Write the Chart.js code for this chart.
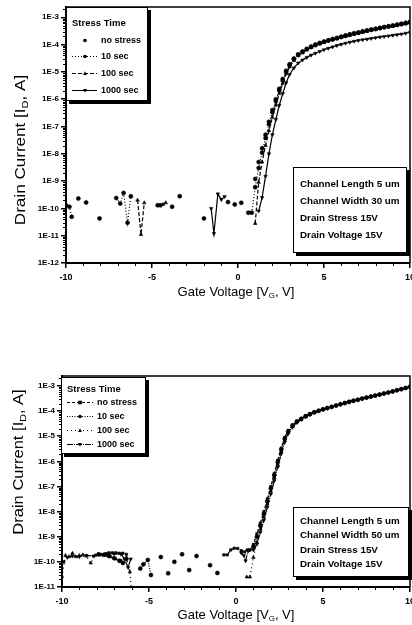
<!DOCTYPE html>
<html><head><meta charset="utf-8">
<script src="https://cdn.jsdelivr.net/npm/chart.js@4.4.1/dist/chart.umd.min.js"></script>
<style>
html,body{margin:0;padding:0;background:#fff;overflow:hidden;width:412px;height:625px}
canvas{position:absolute;left:0}
#c1{top:0}
#c2{top:300px}
</style></head>
<body>
<canvas id="c1" width="425" height="300"></canvas>
<canvas id="c2" width="425" height="325"></canvas>
<script>
// ---------- shared text ----------
const seriesLabels = ['no stress', '10 sec', '100 sec', '1000 sec'];
const legendTitle = 'Stress Time';
const voltageTicks = [-10, -5, 0, 5, 10];
const topCurrentTicks = [1e-12, 1e-11, 1e-10, 1e-9, 1e-8, 1e-7, 1e-6, 1e-5, 1e-4, 1e-3];
const botCurrentTicks = [1e-11, 1e-10, 1e-9, 1e-8, 1e-7, 1e-6, 1e-5, 1e-4, 1e-3];
const topInfoLines = ['Channel Length 5 um', 'Channel Width 30 um', 'Drain Stress 15V', 'Drain Voltage 15V'];
const botInfoLines = ['Channel Length 5 um', 'Channel Width 50 um', 'Drain Stress 15V', 'Drain Voltage 15V'];

// ---------- top chart (W = 30 um) ----------
const topOnV = [0.6, 0.8, 1.0, 1.2, 1.4, 1.6, 1.8, 2.0, 2.2, 2.4, 2.6, 2.8,
  3.0, 3.25, 3.5, 3.75, 4.0, 4.25, 4.5, 4.75, 5.0, 5.25, 5.5, 5.75, 6.0, 6.25, 6.5, 6.75, 7.0, 7.25, 7.5, 7.75, 8.0, 8.25, 8.5, 8.75, 9.0, 9.25, 9.5, 9.75, 10.0];
const topNoStressOn = [null, null, 1.2e-9, 5e-9, 1.6e-8, 5e-8, 1.5e-7, 4e-7, 1e-6, 2.4e-6, 5.5e-6, 1.1e-5,
  1.9e-5, 3.1e-5, 4.4e-5, 5.6e-5, 7e-5, 8.5e-5, 1e-4, 1.15e-4, 1.3e-4, 1.45e-4, 1.6e-4, 1.75e-4, 1.95e-4, 2.15e-4, 2.4e-4, 2.6e-4, 2.8e-4, 3.05e-4, 3.3e-4, 3.55e-4, 3.8e-4, 4.1e-4, 4.4e-4, 4.7e-4, 5e-4, 5.4e-4, 5.8e-4, 6.3e-4, 6.8e-4];
const top10sOn = [7e-11, 7e-11, 6e-10, 3e-9, 1.1e-8, 3.8e-8, 1.2e-7, 3.3e-7, 8.5e-7, 2.1e-6, 4.8e-6, 1e-5,
  1.75e-5, 2.9e-5, 4.2e-5, 5.3e-5, 6.7e-5, 8.1e-5, 9.6e-5, 1.1e-4, 1.25e-4, 1.4e-4, 1.55e-4, 1.7e-4, 1.9e-4, 2.1e-4, 2.3e-4, 2.5e-4, 2.7e-4, 2.95e-4, 3.2e-4, 3.45e-4, 3.7e-4, 4e-4, 4.3e-4, 4.6e-4, 4.9e-4, 5.25e-4, 5.6e-4, 6e-4, 6.5e-4];
const top100sOn = [null, null, 2.8e-11, 9e-10, 5e-9, 2e-8, 7e-8, 2.2e-7, 6e-7, 1.6e-6, 3.8e-6, 8.5e-6,
  1.5e-5, 2.6e-5, 3.9e-5, 5e-5, 6.4e-5, 7.8e-5, 9.2e-5, 1.06e-4, 1.2e-4, 1.35e-4, 1.5e-4, 1.65e-4, 1.8e-4, 2e-4, 2.2e-4, 2.4e-4, 2.6e-4, 2.85e-4, 3.1e-4, 3.35e-4, 3.6e-4, 3.9e-4, 4.2e-4, 4.45e-4, 4.7e-4, 5.05e-4, 5.4e-4, 5.8e-4, 6.2e-4];
const top1000sOn = [null, null, null, 8e-11, 2.5e-10, 1.5e-9, 1e-8, 5e-8, 1.8e-7, 6e-7, 1.6e-6, 4e-6,
  8e-6, 1.4e-5, 2.1e-5, 2.7e-5, 3.4e-5, 4.1e-5, 4.8e-5, 5.6e-5, 6.5e-5, 7.3e-5, 8.2e-5, 9.2e-5, 1.02e-4, 1.12e-4, 1.22e-4, 1.32e-4, 1.42e-4, 1.5e-4, 1.58e-4, 1.68e-4, 1.78e-4, 1.88e-4, 1.98e-4, 2.08e-4, 2.18e-4, 2.3e-4, 2.42e-4, 2.6e-4, 2.8e-4];

const topNoStressOffV = [-9.28, -8.83, -8.05, -4.67, -4.51, -3.83, -3.39, -1.98, -0.58, -0.19, 0.19];
const topNoStressOffI = [2.3e-10, 1.65e-10, 4.3e-11, 1.3e-10, 1.3e-10, 1.15e-10, 2.8e-10, 4.3e-11, 1.7e-10, 1.4e-10, 1.6e-10];
const top10sOffV = [-10, -9.8, -9.67, -8.0, -7.08, -6.85, -6.65, -6.42, -6.23, 0.4];
const top10sOffI = [1.3e-10, 1.15e-10, 4.9e-11, null, 2.4e-10, 1.5e-10, 3.7e-10, 3e-11, 2.8e-10, null];
const top100sOffV = [-5.84, -5.64, -5.45, -5.0, -4.36, -4.2, 0.5];
const top100sOffI = [2e-10, 1.1e-11, 1.6e-10, null, 1.4e-10, 1.6e-10, null];
const top1000sOffV = [-1.56, -1.4, -1.17, -0.97, -0.78, 0.5];
const top1000sOffI = [1e-10, 1.2e-11, 3.4e-10, 2.1e-10, 2.7e-10, null];

// ---------- bottom chart (W = 50 um) ----------
const botOnV = [0.8, 1.0, 1.2, 1.4, 1.6, 1.8, 2.0, 2.2, 2.4, 2.6, 2.8,
  3.0, 3.25, 3.5, 3.75, 4.0, 4.25, 4.5, 4.75, 5.0, 5.25, 5.5, 5.75, 6.0, 6.25, 6.5, 6.75, 7.0, 7.25, 7.5, 7.75, 8.0, 8.25, 8.5, 8.75, 9.0, 9.25, 9.5, 9.75, 10.0];
const botNoStressOn = [3e-10, 5e-10, 1.3e-9, 3.5e-9, 1e-8, 3.2e-8, 1e-7, 3.3e-7, 1.1e-6, 3.4e-6, 9e-6,
  1.7e-5, 2.8e-5, 4e-5, 5.1e-5, 6.5e-5, 7.8e-5, 9.2e-5, 1.06e-4, 1.2e-4, 1.35e-4, 1.5e-4, 1.7e-4, 1.9e-4, 2.15e-4, 2.4e-4, 2.65e-4, 2.9e-4, 3.2e-4, 3.5e-4, 3.85e-4, 4.2e-4, 4.65e-4, 5.1e-4, 5.6e-4, 6.2e-4, 6.9e-4, 7.6e-4, 8.5e-4, 9.5e-4];
const bot10sOn = [null, 4e-10, 1e-9, 2.8e-9, 8e-9, 2.6e-8, 8.5e-8, 2.8e-7, 9.5e-7, 3e-6, 8e-6,
  1.55e-5, 2.65e-5, 3.85e-5, 4.95e-5, 6.3e-5, 7.6e-5, 9e-5, 1.04e-4, 1.18e-4, 1.33e-4, 1.48e-4, 1.67e-4, 1.88e-4, 2.1e-4, 2.35e-4, 2.6e-4, 2.85e-4, 3.15e-4, 3.45e-4, 3.8e-4, 4.15e-4, 4.55e-4, 5e-4, 5.5e-4, 6.1e-4, 6.8e-4, 7.5e-4, 8.4e-4, 9.3e-4];
const bot100sOn = [2.5e-11, 1.5e-10, 6e-10, 2e-9, 6e-9, 2e-8, 6.5e-8, 2.2e-7, 7.5e-7, 2.5e-6, 6.8e-6,
  1.4e-5, 2.5e-5, 3.7e-5, 4.8e-5, 6.1e-5, 7.4e-5, 8.8e-5, 1.02e-4, 1.16e-4, 1.31e-4, 1.46e-4, 1.65e-4, 1.85e-4, 2.07e-4, 2.3e-4, 2.55e-4, 2.8e-4, 3.1e-4, 3.4e-4, 3.75e-4, 4.1e-4, 4.5e-4, 4.95e-4, 5.45e-4, 6e-4, 6.7e-4, 7.4e-4, 8.3e-4, 9.2e-4];
const bot1000sOn = [3e-10, 3e-10, 5e-10, 1.5e-9, 4.5e-9, 1.5e-8, 5e-8, 1.7e-7, 6e-7, 2e-6, 5.8e-6,
  1.25e-5, 2.3e-5, 3.5e-5, 4.6e-5, 5.9e-5, 7.2e-5, 8.6e-5, 1e-4, 1.14e-4, 1.29e-4, 1.44e-4, 1.62e-4, 1.82e-4, 2.04e-4, 2.27e-4, 2.5e-4, 2.75e-4, 3.05e-4, 3.35e-4, 3.7e-4, 4.05e-4, 4.45e-4, 4.9e-4, 5.4e-4, 5.9e-4, 6.6e-4, 7.3e-4, 8.2e-4, 9e-4];

const botNoStressOffV = [-10, -9.9, -9.6, -7.5, -7.3, -7.1, -6.9, -6.7, -6.5, -6.3, -3, -0.7, -0.5, -0.3, -0.1, 0.1, 0.3, 0.5, 0.65];
const botNoStressOffI = [1e-10, 1e-10, null, 2.1e-10, 2.3e-10, 2.3e-10, 2.3e-10, 2.2e-10, 2.2e-10, 2e-10, null, 1.9e-10, 1.9e-10, 3e-10, 3.5e-10, 3.4e-10, 2.8e-10, 2.5e-10, 3e-10];
const bot10sOffV = [-7.9, -7.6, -7.3, -7.0, -6.7, -6.5, -6.3, -6.0, -5.5, -5.32, -5.07, -4.89, -4.6, -4.32, -4.1, -3.9, -3.7, -3.54, -3.3, -3.1, -2.9, -2.69, -2.5, -2.27, -1.8, -1.49, -1.3, -1.07, -0.9];
const bot10sOffI = [2e-10, 1.9e-10, 1.7e-10, 1.4e-10, 1.1e-10, 9e-11, 1.3e-10, null, 5.4e-11, 8e-11, 1.2e-10, 3e-11, null, 1.55e-10, null, 3.5e-11, null, 1e-10, null, 2e-10, null, 4.7e-11, null, 1.7e-10, null, 7.4e-11, null, 3.6e-11, null];
const bot100sOffV = [-10, -9.8, -9.6, -9.4, -9.2, -9.0, -8.8, -8.6, -8.35, -8.1, -7.8, -7.5, -7.2, -6.9, -6.6, -6.3, -6.1, -5.95, 0.0, 0.62];
const bot100sOffI = [2.6e-11, 1.8e-10, 1.6e-10, 2.2e-10, 1.6e-10, 1.8e-10, 1.9e-10, 1.7e-10, 9e-11, 1.8e-10, 1.9e-10, 1.8e-10, 1.6e-10, 1.3e-10, 1.1e-10, 1.5e-10, 4e-11, 3e-12, null, 2.5e-11];
const bot1000sOffV = [-9.7, -9.4, -9.0, -8.6, -8.2, -7.8, -7.4, -7.0, -6.6, -6.4, -6.2, -6.05, -3, 0.3, 0.45, 0.55, 0.7];
const bot1000sOffI = [1.5e-10, 1.7e-10, 1.6e-10, 1.8e-10, 1.7e-10, 2e-10, 2.1e-10, 2.1e-10, 2e-10, 1.3e-10, 6e-11, 1.3e-10, null, 2.3e-10, 1.8e-10, 1.1e-10, 2.8e-10];

// ---------- helpers ----------
function pts(offV, offI, onV, onI) {
  const a = [];
  offV.forEach((v, i) => a.push({ x: v, y: offI[i] }));
  onV.forEach((v, i) => a.push({ x: v, y: onI[i] }));
  return a;
}
const FONT = '"Liberation Sans", Arial, sans-serif';

function markerPath(ctx, style, rot, x, y, r) {
  ctx.beginPath();
  if (style === 'circle') ctx.arc(x, y, r, 0, Math.PI * 2);
  else if (style === 'rect') ctx.rect(x - r, y - r, 2 * r, 2 * r);
  else if (style === 'triangle') {
    const s = rot === 180 ? -1 : 1;
    ctx.moveTo(x, y - s * r * 1.2);
    ctx.lineTo(x + r * 1.1, y + s * r * 0.8);
    ctx.lineTo(x - r * 1.1, y + s * r * 0.8);
    ctx.closePath();
  }
  ctx.fill();
}

function drawBox(ctx, b) {
  ctx.fillStyle = '#000';
  ctx.fillRect(b.x + 3, b.y + 3, b.w, b.h);
  ctx.fillStyle = '#fff';
  ctx.fillRect(b.x, b.y, b.w, b.h);
  ctx.strokeStyle = '#000';
  ctx.lineWidth = 1;
  ctx.strokeRect(b.x + 0.5, b.y + 0.5, b.w - 1, b.h - 1);
}

function drawParts(ctx, parts, size, subSize) {
  let total = 0;
  parts.forEach(p => { ctx.font = (p[1] ? subSize : size) + 'px ' + FONT; total += ctx.measureText(p[0]).width; });
  let x = -total / 2;
  parts.forEach(p => {
    ctx.font = (p[1] ? subSize : size) + 'px ' + FONT;
    ctx.fillText(p[0], x, p[1] ? size * 0.3 : 0);
    x += ctx.measureText(p[0]).width;
  });
}

const decor = {
  id: 'decor',
  afterDatasetsDraw(chart, args, o) {
    const ctx = chart.ctx, ca = chart.chartArea;
    const xs = chart.scales.x, ys = chart.scales.y;
    ctx.save();
    ctx.strokeStyle = '#000';
    ctx.lineWidth = 1.5;
    ctx.beginPath();
    ctx.moveTo(ca.left, ca.top); ctx.lineTo(ca.right, ca.top); ctx.lineTo(ca.right, ca.bottom);
    ctx.stroke();
    // minor ticks
    ctx.lineWidth = 1;
    ctx.beginPath();
    const lmin = Math.floor(Math.log10(ys.min)), lmax = Math.ceil(Math.log10(ys.max));
    for (let d = lmin; d <= lmax; d++) {
      for (let k = 2; k <= 9; k++) {
        const v = k * Math.pow(10, d);
        if (v <= ys.min || v >= ys.max) continue;
        const py = Math.round(ys.getPixelForValue(v)) + 0.5;
        ctx.moveTo(ca.left - 3, py); ctx.lineTo(ca.left, py);
      }
    }
    for (let v = Math.ceil(xs.min); v <= xs.max; v++) {
      if (v % 5 === 0) continue;
      const px = Math.round(xs.getPixelForValue(v)) + 0.5;
      ctx.moveTo(px, ca.bottom); ctx.lineTo(px, ca.bottom + 3);
    }
    ctx.stroke();

    // legend box
    const L = o.legend;
    drawBox(ctx, L.box);
    ctx.fillStyle = '#000';
    ctx.textBaseline = 'middle';
    ctx.textAlign = 'left';
    ctx.font = 'bold 9.5px ' + FONT;
    ctx.fillText(legendTitle, L.titleX, L.titleY);
    chart.data.datasets.forEach((ds, i) => {
      const y = L.rows[i] + 0.5;
      if (ds.showLine !== false) {
        ctx.strokeStyle = '#000';
        ctx.lineWidth = 1;
        ctx.setLineDash(ds.borderDash || []);
        ctx.beginPath(); ctx.moveTo(L.lineX[0], y); ctx.lineTo(L.lineX[1], y); ctx.stroke();
        ctx.setLineDash([]);
      }
      ctx.fillStyle = '#000';
      markerPath(ctx, ds.pointStyle, ds.pointRotation || 0, L.markX, y, 1.8);
      ctx.font = 'bold 9px ' + FONT;
      ctx.fillText(ds.label, L.textX, y);
    });

    // info box
    const I = o.info;
    drawBox(ctx, I.box);
    ctx.fillStyle = '#000';
    ctx.font = 'bold 9.8px ' + FONT;
    I.lines.forEach((t, i) => ctx.fillText(t, I.textX, I.rows[i]));

    // axis titles
    ctx.textBaseline = 'middle';
    ctx.save();
    ctx.translate(o.xTitle.x, o.xTitle.y);
    drawParts(ctx, [['Gate Voltage [V', false], ['G', true], [', V]', false]], 13, 8);
    ctx.restore();
    ctx.save();
    ctx.translate(o.yTitle.x, o.yTitle.y);
    ctx.rotate(-Math.PI / 2);
    ctx.scale(o.yTitle.stretch, 1);
    drawParts(ctx, [['Drain Current [I', false], ['D', true], [', A]', false]], 14, 9);
    ctx.restore();
    ctx.restore();
  }
};

function makeDatasets(style, sets) {
  return sets.map((d, i) => Object.assign({
    label: seriesLabels[i], data: d,
    borderColor: '#000', backgroundColor: '#000',
    pointBackgroundColor: '#000', pointBorderColor: '#000',
    borderWidth: 1.2, pointRadius: 2, pointBorderWidth: 0.6,
    spanGaps: false, clip: 0, tension: 0
  }, style[i]));
}

function makeOptions(yTicks, yMax, yWidth, xHeight, padTop, deco) {
  const tickFont = { family: FONT, size: 9, weight: 'bold' };
  const axisGrid = { drawOnChartArea: false, color: '#000', tickLength: 5, lineWidth: 1.5 };
  return {
    responsive: false, animation: false, devicePixelRatio: 1,
    layout: { padding: { top: padTop, right: 15, left: 0, bottom: 0 } },
    plugins: { legend: { display: false }, tooltip: { enabled: false }, decor: deco },
    scales: {
      x: {
        type: 'linear', min: -10, max: 10,
        afterBuildTicks: s => { s.ticks = voltageTicks.map(v => ({ value: v })); },
        ticks: { callback: v => String(v), font: tickFont, color: '#000', padding: 4, maxRotation: 0, autoSkip: false },
        grid: axisGrid, border: { color: '#000', width: 2 },
        afterFit: s => { s.height = xHeight; }
      },
      y: {
        type: 'logarithmic', min: yTicks[0], max: yMax,
        afterBuildTicks: s => { s.ticks = yTicks.map(v => ({ value: v })); },
        ticks: { callback: v => '1E' + Math.round(Math.log10(v)), font: { family: FONT, size: 8, weight: 'bold' }, color: '#000', padding: 2, autoSkip: false },
        grid: axisGrid, border: { color: '#000', width: 2 },
        afterFit: s => { s.width = yWidth; }
      }
    }
  };
}

// ---------- top chart ----------
const topStyle = [
  { showLine: false, pointStyle: 'circle', pointRadius: 2 },
  { borderDash: [1, 2], pointStyle: 'circle' },
  { borderDash: [4, 2], pointStyle: 'triangle' },
  { pointStyle: 'triangle', pointRotation: 180 }
];
new Chart(document.getElementById('c1'), {
  type: 'line',
  data: {
    datasets: makeDatasets(topStyle, [
      pts(topNoStressOffV, topNoStressOffI, topOnV, topNoStressOn),
      pts(top10sOffV, top10sOffI, topOnV, top10sOn),
      pts(top100sOffV, top100sOffI, topOnV, top100sOn),
      pts(top1000sOffV, top1000sOffI, topOnV, top1000sOn)
    ])
  },
  options: makeOptions(topCurrentTicks, 2.38e-3, 66, 37, 7, {
    legend: { box: { x: 66, y: 7, w: 82, h: 94 }, titleX: 72, titleY: 23, rows: [40, 56, 73, 90], lineX: [72, 97], markX: 85, textX: 101 },
    info: { box: { x: 293, y: 167, w: 114, h: 86 }, lines: topInfoLines, textX: 300, rows: [184, 201, 218, 235] },
    xTitle: { x: 236, y: 292 }, yTitle: { x: 21, y: 150, stretch: 1.22 }
  }),
  plugins: [decor]
});

// ---------- bottom chart ----------
const botStyle = [
  { borderDash: [3, 2], pointStyle: 'rect', pointRadius: 1.7 },
  { borderDash: [1, 1.5], pointStyle: 'circle' },
  { borderDash: [1, 3], pointStyle: 'triangle' },
  { borderDash: [6, 1, 1, 1], pointStyle: 'triangle', pointRotation: 180 }
];
new Chart(document.getElementById('c2'), {
  type: 'line',
  data: {
    datasets: makeDatasets(botStyle, [
      pts(botNoStressOffV, botNoStressOffI, botOnV, botNoStressOn),
      pts(bot10sOffV, bot10sOffI, botOnV, bot10sOn),
      pts(bot100sOffV, bot100sOffI, botOnV, bot100sOn),
      pts(bot1000sOffV, bot1000sOffI, botOnV, bot1000sOn)
    ])
  },
  options: makeOptions(botCurrentTicks, 2.5e-3, 62, 38, 76, {
    legend: { box: { x: 61, y: 77, w: 85, h: 77 }, titleX: 67, titleY: 89, rows: [102, 116, 130, 144], lineX: [67, 93], markX: 80, textX: 97 },
    info: { box: { x: 293, y: 207, w: 116, h: 70 }, lines: botInfoLines, textX: 300, rows: [221, 235, 250, 264] },
    xTitle: { x: 236, y: 315 }, yTitle: { x: 19, y: 162, stretch: 1.18 }
  }),
  plugins: [decor]
});
</script>
</body></html>
